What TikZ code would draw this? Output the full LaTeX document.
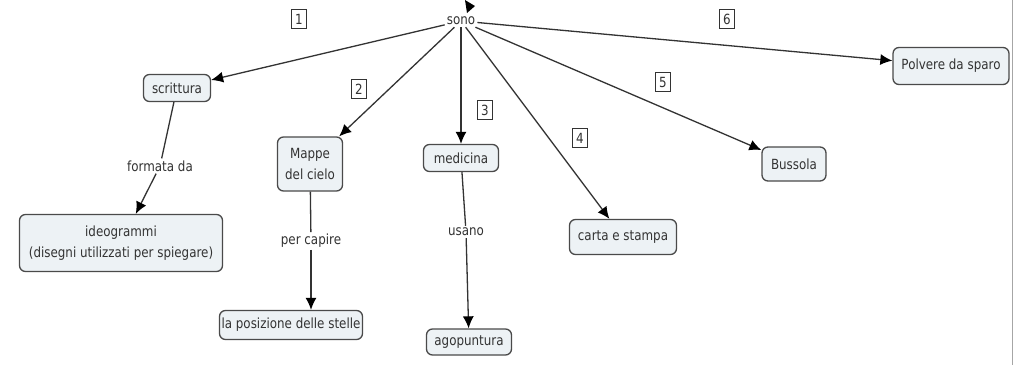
\documentclass[tikz,border=0pt]{standalone}
\usepackage{fontspec}
\setmainfont{DejaVu Sans}[FakeStretch=0.85]
\usetikzlibrary{arrows.meta}
\definecolor{boxfill}{HTML}{EDF2F5}
\definecolor{boxline}{HTML}{4A4A4A}
\definecolor{inkgray}{HTML}{333333}
\begin{document}
\begin{tikzpicture}[x=1pt,y=-1pt,
  concept/.style={draw=boxline, fill=boxfill, line width=1.3pt, rounded corners=6pt,
    text=inkgray, font=\fontsize{14}{21}\selectfont, align=center, inner sep=0pt},
  linkword/.style={text=inkgray, font=\fontsize{14}{16}\selectfont, inner sep=2pt},
  tag/.style={draw=inkgray, line width=0.9pt, fill=white, text=inkgray,
    font=\fontsize{14}{15}\selectfont, minimum width=15pt, minimum height=19pt, inner sep=0pt},
  link/.style={draw=inkgray, line width=1.3pt},
  arrowlink/.style={link, -{Latex[length=12pt,width=11pt,color=black]}}
]
% canvas
\fill[white] (0,0) rectangle (1028,365);
\useasboundingbox (0,0) rectangle (1028,365);
\draw[gray!70, line width=1pt] (1012,0) -- (1012,365);

% central linking word and the clipped arrowhead above it
\node[linkword] (sono) at (461,21) {sono};
\fill[black] (465,0) -- (475,6) -- (467,13) -- cycle;

% concepts
\node[concept, minimum width=67pt, minimum height=27pt] (scrittura) at (177,88) {scrittura};
\node[concept, minimum width=203pt, minimum height=57pt] (ideo) at (121,243)
  {ideogrammi\\(disegni utilizzati per spiegare)};
\node[concept, minimum width=65pt, minimum height=54pt] (mappe) at (310,164) {Mappe\\del cielo};
\node[concept, minimum width=143pt, minimum height=29pt] (posizione) at (291,325)
  {la posizione delle stelle};
\node[concept, minimum width=75pt, minimum height=27pt] (medicina) at (461,158) {medicina};
\node[concept, minimum width=85pt, minimum height=26pt] (agopuntura) at (469,342) {agopuntura};
\node[concept, minimum width=107pt, minimum height=35pt] (carta) at (623,237) {carta e stampa};
\node[concept, minimum width=64pt, minimum height=34pt] (bussola) at (794,164) {Bussola};
\node[concept, minimum width=116pt, minimum height=37pt] (polvere) at (951,66) {Polvere da sparo};

% linking phrases
\node[linkword] (formata) at (160,166) {formata da};
\node[linkword] (percapire) at (311,241) {per capire};
\node[linkword] (usano) at (466,232) {usano};

% numbered tags
\node[tag] (t1) at (299,19) {1};
\node[tag] (t2) at (359,89) {2};
\node[tag] (t3) at (485,110) {3};
\node[tag] (t4) at (580,138) {4};
\node[tag] (t5) at (663,82) {5};
\node[tag] (t6) at (727,19) {6};

% connectors from the centre
\draw[arrowlink] (sono) -- (scrittura);
\draw[arrowlink] (sono) -- (mappe);
\draw[arrowlink] (sono) -- (medicina);
\draw[arrowlink] (sono) -- (carta);
\draw[arrowlink] (sono) -- (bussola);
\draw[arrowlink] (sono) -- (polvere);

% chains through linking phrases
\draw[link] (scrittura) -- (formata);
\draw[arrowlink] (formata) -- (ideo);
\draw[link] (mappe) -- (percapire);
\draw[arrowlink] (percapire) -- (percapire |- posizione.north);
\draw[link] (medicina) -- (usano);
\draw[arrowlink] (usano) -- (agopuntura);
\end{tikzpicture}
\end{document}
